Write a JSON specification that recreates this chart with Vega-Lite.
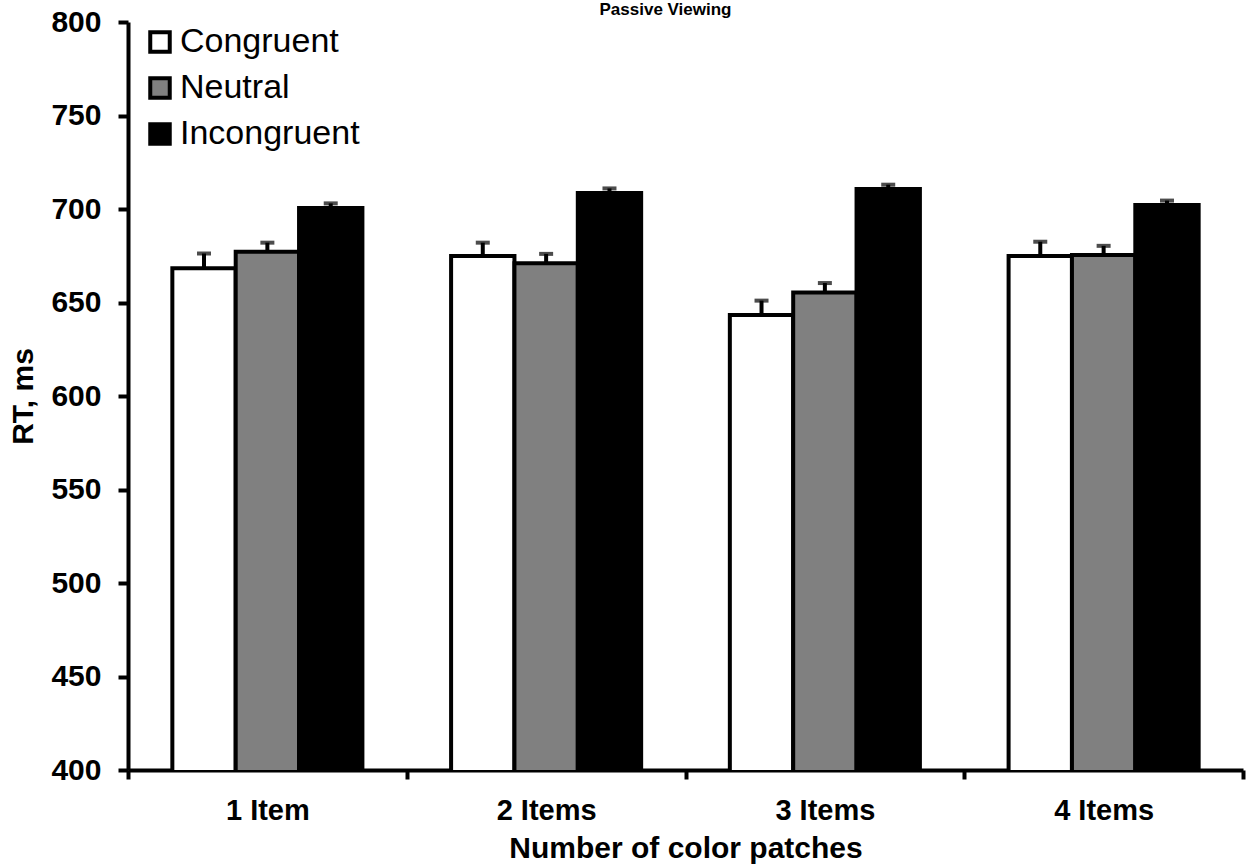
{
  "$schema": "https://vega.github.io/schema/vega-lite/v6.json",
  "width": 1115,
  "height": 748,
  "autosize": {"type": "none"},
  "padding": {"left": 128, "top": 22, "right": 3, "bottom": 95},
  "background": "white",
  "title": {"text": "Passive Viewing", "font": "Liberation Sans", "fontSize": 17, "fontWeight": "bold", "color": "black", "anchor": "middle", "dx": -20, "offset": -12},
  "config": {
    "font": "Liberation Sans",
    "view": {"stroke": null},
    "axis": {"grid": false, "domainColor": "black", "tickColor": "black", "labelColor": "black", "titleColor": "black", "labelFont": "Liberation Sans", "titleFont": "Liberation Sans"}
  },
  "data": {"values": [
    {"group": "1 Item", "cond": "Congruent", "rt": 668.3, "upper": 676.2},
    {"group": "1 Item", "cond": "Neutral", "rt": 677.2, "upper": 682.0},
    {"group": "1 Item", "cond": "Incongruent", "rt": 700.5, "upper": 703.0},
    {"group": "2 Items", "cond": "Congruent", "rt": 674.9, "upper": 682.0},
    {"group": "2 Items", "cond": "Neutral", "rt": 671.0, "upper": 676.0},
    {"group": "2 Items", "cond": "Incongruent", "rt": 708.6, "upper": 711.0},
    {"group": "3 Items", "cond": "Congruent", "rt": 643.3, "upper": 651.0},
    {"group": "3 Items", "cond": "Neutral", "rt": 655.3, "upper": 660.4},
    {"group": "3 Items", "cond": "Incongruent", "rt": 710.7, "upper": 713.0},
    {"group": "4 Items", "cond": "Congruent", "rt": 674.9, "upper": 682.5},
    {"group": "4 Items", "cond": "Neutral", "rt": 675.4, "upper": 680.3},
    {"group": "4 Items", "cond": "Incongruent", "rt": 702.2, "upper": 704.5}
  ]},
  "encoding": {
    "x": {"field": "group", "type": "nominal", "sort": null,
      "scale": {"paddingInner": 0, "paddingOuter": 0},
      "axis": {"title": "Number of color patches", "labelAngle": 0, "labelFontSize": 29, "labelFontWeight": "bold", "labelPadding": 17, "titleFontSize": 30, "titleFontWeight": "bold", "titlePadding": 8, "domainWidth": 4, "tickWidth": 4, "tickSize": 9, "tickBand": "extent"}},
    "xOffset": {"field": "cond", "type": "nominal", "sort": ["Congruent", "Neutral", "Incongruent"], "scale": {"paddingInner": 0, "paddingOuter": 0.7}}
  },
  "layer": [
    {
      "mark": {"type": "bar", "stroke": "black", "strokeWidth": 4, "clip": true},
      "encoding": {
        "y": {"field": "rt", "type": "quantitative",
          "scale": {"domain": [400, 800], "nice": false, "zero": false},
          "axis": {"title": "RT, ms", "values": [400, 450, 500, 550, 600, 650, 700, 750, 800], "labelFontSize": 30, "labelFontWeight": "bold", "labelPadding": 17, "titleFontSize": 30, "titleFontWeight": "bold", "titlePadding": 12, "domainWidth": 4, "tickWidth": 4, "tickSize": 10}},
        "fill": {"field": "cond", "type": "nominal", "sort": ["Congruent", "Neutral", "Incongruent"],
          "scale": {"domain": ["Congruent", "Neutral", "Incongruent"], "range": ["#ffffff", "#808080", "#000000"]},
          "legend": {"title": null, "orient": "none", "legendX": 15, "legendY": 3, "padding": 0, "symbolType": "square", "symbolSize": 380, "symbolStrokeColor": "black", "symbolStrokeWidth": 4, "labelFontSize": 34, "labelFont": "Liberation Sans", "labelColor": "black", "labelOffset": 3, "labelLimit": 0, "rowPadding": 10}}
      }
    },
    {
      "mark": {"type": "rule", "color": "black", "strokeWidth": 4},
      "encoding": {
        "y": {"field": "rt", "type": "quantitative"},
        "y2": {"field": "upper"}
      }
    },
    {
      "mark": {"type": "tick", "color": "black", "thickness": 4, "size": 14},
      "encoding": {
        "y": {"field": "upper", "type": "quantitative"}
      }
    }
  ]
}
